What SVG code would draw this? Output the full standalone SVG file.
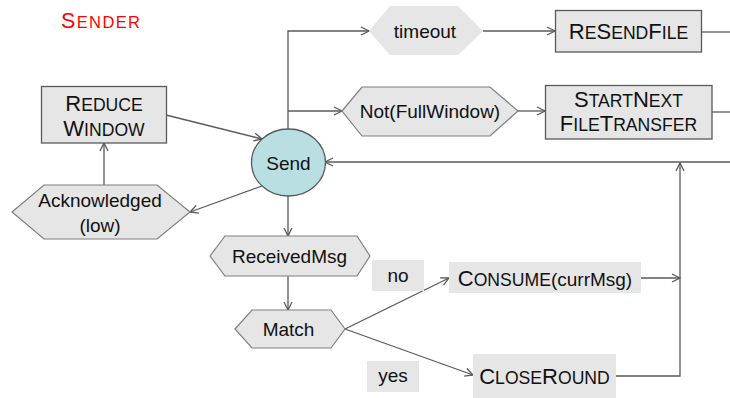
<svg xmlns="http://www.w3.org/2000/svg" width="730" height="398" viewBox="0 0 730 398">
<style>
text{font-family:"Liberation Sans",Arial,sans-serif;fill:#111;font-size:19px;text-anchor:middle}
.box{fill:#e6e6e6;stroke:#5a5a5a;stroke-width:1.3}
.hex{fill:#e6e6e6;stroke:#7f7f7f;stroke-width:1.2}
.plain{fill:#e6e6e6;stroke:none}
.c{stroke:#5a5a5a;stroke-width:1.3;fill:none}
.a{marker-end:url(#arr)}
.B{font-size:22px}
.s{font-size:17.6px}
</style>
<defs>
<marker id="arr" markerUnits="userSpaceOnUse" markerWidth="12" markerHeight="12" refX="9" refY="5" orient="auto">
<path d="M1,1 L9,5 L1,9" fill="none" stroke="#5a5a5a" stroke-width="1.3"/>
</marker>
</defs>
<text x="61" y="27.5" textLength="79" lengthAdjust="spacing" style="fill:#ff0000;text-anchor:start"><tspan style="font-size:21.5px">S</tspan><tspan style="font-size:16.5px">ENDER</tspan></text>
<g id="connectors">
<path class="c a" d="M288,129 V31 H369"/>
<path class="c a" d="M288,111 H342"/>
<path class="c a" d="M483,31 H555"/>
<path class="c" d="M702,32 H730"/>
<path class="c a" d="M518,111 H545"/>
<path class="c" d="M712,112 H730"/>
<path class="c a" d="M730,162 H325"/>
<path class="c a" d="M616,376 H680 V163"/>
<path class="c a" d="M641,278 H680"/>
<path class="c a" d="M166,115 L262,139"/>
<path class="c a" d="M104,185 V143"/>
<path class="c a" d="M262,186 L190,212"/>
<path class="c a" d="M288,196 V236"/>
<path class="c a" d="M288,276 V310"/>
<path class="c a" d="M345,329 L449,278"/>
<path class="c a" d="M345,329 L473,375"/>
</g>
<g id="reduce-window">
<rect class="box" x="41.5" y="86.5" width="125" height="56.5"/>
<text x="104" y="111"><tspan class="B">R</tspan><tspan class="s">EDUCE</tspan></text>
<text x="104" y="136"><tspan class="B">W</tspan><tspan class="s">INDOW</tspan></text>
</g>
<g id="send">
<ellipse cx="288.5" cy="162.5" rx="37" ry="33.5" fill="#b9dfe3" stroke="#5a5a5a" stroke-width="1.3"/>
<text x="288.5" y="169.5">Send</text>
</g>
<g id="acknowledged">
<polygon class="hex" points="12,212 44,185 157,185 190,212 157,239 44,239"/>
<text x="100" y="207">Acknowledged</text>
<text x="100" y="232">(low)</text>
</g>
<g id="timeout">
<polygon class="plain" points="369,31 390,6 458,6 483,31 458,55 390,55"/>
<text x="425" y="37.5">timeout</text>
</g>
<g id="resendfile">
<rect class="box" x="555.5" y="10.5" width="146" height="41.5"/>
<text x="628.5" y="39"><tspan class="B">R</tspan><tspan class="s">E</tspan><tspan class="B">S</tspan><tspan class="s">END</tspan><tspan class="B">F</tspan><tspan class="s">ILE</tspan></text>
</g>
<g id="not-fullwindow">
<polygon class="hex" points="342,111 362,87 490,87 518,111 490,136 362,136"/>
<text x="430" y="118">Not(FullWindow)</text>
</g>
<g id="startnext">
<rect class="box" x="545.5" y="85.5" width="166.5" height="53.5"/>
<text x="628.5" y="106.5"><tspan class="B">S</tspan><tspan class="s">TART</tspan><tspan class="B">N</tspan><tspan class="s">EXT</tspan></text>
<text x="628.5" y="131"><tspan class="B">F</tspan><tspan class="s">ILE</tspan><tspan class="B">T</tspan><tspan class="s">RANSFER</tspan></text>
</g>
<g id="receivedmsg">
<polygon class="hex" points="210,256 225,236 357,236 370,256 357,276 225,276"/>
<text x="289.5" y="263">ReceivedMsg</text>
</g>
<g id="match">
<polygon class="hex" points="235,329 252,310 331,310 345,329 331,348 252,348"/>
<text x="288.5" y="336">Match</text>
</g>
<g id="label-no">
<rect class="plain" x="372" y="260" width="52" height="31"/>
<text x="398" y="282">no</text>
</g>
<g id="label-yes">
<rect class="plain" x="367" y="361" width="52" height="31"/>
<text x="393" y="382">yes</text>
</g>
<g id="consume">
<rect class="plain" x="449" y="262" width="192" height="31"/>
<text x="545" y="285.5"><tspan class="B">C</tspan><tspan class="s">ONSUME</tspan>(currMsg)</text>
</g>
<g id="closeround">
<rect class="plain" x="473" y="354" width="143" height="44"/>
<text x="544.5" y="384"><tspan class="B">C</tspan><tspan class="s">LOSE</tspan><tspan class="B">R</tspan><tspan class="s">OUND</tspan></text>
</g>
</svg>
